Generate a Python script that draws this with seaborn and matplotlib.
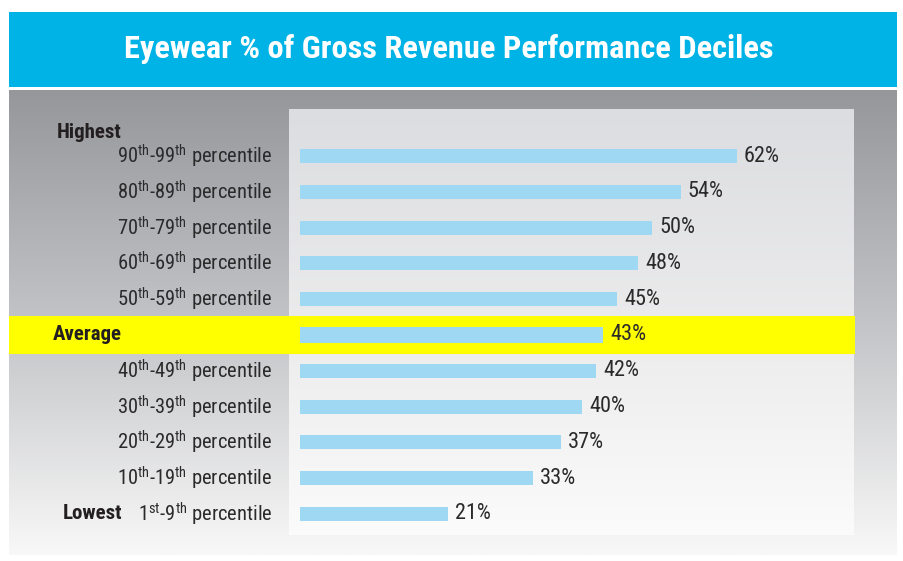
import numpy as np
import pandas as pd
import matplotlib
matplotlib.use("Agg")
import matplotlib.pyplot as plt
import matplotlib.transforms as mtransforms
from matplotlib import font_manager
from matplotlib.colors import LinearSegmentedColormap
from matplotlib.patches import Rectangle
import seaborn as sns

# ---------------- data ----------------
categories = ["90th-99th percentile", "80th-89th percentile", "70th-79th percentile",
              "60th-69th percentile", "50th-59th percentile", "Average",
              "40th-49th percentile", "30th-39th percentile", "20th-29th percentile",
              "10th-19th percentile", "1st-9th percentile"]
tick_labels = [r"90$^{\rm th}$-99$^{\rm th}$ percentile", r"80$^{\rm th}$-89$^{\rm th}$ percentile",
               r"70$^{\rm th}$-79$^{\rm th}$ percentile", r"60$^{\rm th}$-69$^{\rm th}$ percentile",
               r"50$^{\rm th}$-59$^{\rm th}$ percentile", "",
               r"40$^{\rm th}$-49$^{\rm th}$ percentile", r"30$^{\rm th}$-39$^{\rm th}$ percentile",
               r"20$^{\rm th}$-29$^{\rm th}$ percentile", r"10$^{\rm th}$-19$^{\rm th}$ percentile",
               r"1$^{\rm st}$-9$^{\rm th}$ percentile"]
values = [62, 54, 50, 48, 45, 43, 42, 40, 37, 33, 21]
title = "Eyewear % of Gross Revenue Performance Deciles"

installed = {f.name for f in font_manager.fontManager.ttflist}
FONT = "DejaVu Sans"
for cand in ["Liberation Sans Narrow", "Roboto Condensed", "Open Sans Condensed",
             "Noto Sans Condensed", "Open Sans", "Noto Sans", "Lato"]:
    if cand in installed:
        FONT = cand
        break

sns.set_style("white")
plt.rcParams["font.family"] = [FONT, "DejaVu Sans"]
plt.rcParams["mathtext.fontset"] = "custom"
plt.rcParams["mathtext.rm"] = FONT
plt.rcParams["mathtext.it"] = FONT
plt.rcParams["mathtext.bf"] = FONT + ":bold"
plt.rcParams["mathtext.sf"] = FONT

W, H = 904, 561
fig = plt.figure(figsize=(W / 100, H / 100), dpi=100)
fig.patch.set_facecolor("white")
renderer = fig.canvas.get_renderer()

TXT = "#2b2a2b"


def fx(px):
    return px / W


def fy(py):
    return 1 - py / H


def fit(t, target_px):
    w = t.get_window_extent(renderer).width
    t.set_fontsize(t.get_fontsize() * target_px / w)
    return t.get_fontsize()


def fit_size(s, target_px, **kw):
    t = fig.text(0, 0, s, fontsize=12, **kw)
    fs = fit(t, target_px)
    t.remove()
    return fs


# title band
fig.patches.append(Rectangle((fx(9), fy(87)), fx(897) - fx(9), fy(12) - fy(87),
                             transform=fig.transFigure, facecolor="#00b3e6",
                             edgecolor="none", zorder=0))
tt = fig.text(0.5 * (fx(9) + fx(897)) - fx(4), fy(49), title, color="white", fontsize=20,
              fontweight="bold", ha="center", va="center")
fit(tt, 647)

# outer gray gradient panel
grad = np.linspace(0, 1, 256).reshape(-1, 1)
ax_out = fig.add_axes([fx(9), fy(555), fx(897) - fx(9), fy(90) - fy(555)], zorder=0)
ax_out.imshow(grad, aspect="auto", extent=[0, 1, 0, 1],
              cmap=LinearSegmentedColormap.from_list("g1", ["#96979b", "#c3c4c7", "#f8f8f8"]))
ax_out.set_axis_off()

# inner panel gradient
pos = [fx(289), fy(535), fx(854) - fx(289), fy(109) - fy(535)]
ax_in = fig.add_axes(pos, zorder=1)
ax_in.imshow(grad, aspect="auto", extent=[0, 1, 0, 1],
             cmap=LinearSegmentedColormap.from_list("g2", ["#dcdde0", "#ebebec", "#fbfbfb"]))
ax_in.set_axis_off()

avg_idx = categories.index("Average")
ylim = (10.587, -1.313)

# yellow band layer (between panel and bars)
ax_band = fig.add_axes(pos, zorder=1.5)
ax_band.set_ylim(ylim)
ax_band.set_axis_off()
blend_b = mtransforms.blended_transform_factory(fig.transFigure, ax_band.transData)
ax_band.add_patch(Rectangle((fx(9), avg_idx - 0.53), fx(855) - fx(9), 1.06, transform=blend_b,
                            facecolor="#ffff00", edgecolor="none", clip_on=False))

# main axes
ax = fig.add_axes(pos, zorder=2)
ax.patch.set_alpha(0)
df = pd.DataFrame({"category": categories, "value": values})
sns.barplot(data=df, x="value", y="category", orient="h", color="#9ed8f2",
            saturation=1, width=0.39, ax=ax, order=categories, linewidth=0,
            edgecolor="none")

bars = ax.containers[0]
p = bars.patches[avg_idx]
p.set_y(avg_idx - 0.235)
p.set_height(0.47)

ax.set_xlim(-1.56, 78.6)
ax.set_ylim(ylim)
ax.set_yticks(range(len(categories)))
lab_fs = fit_size("percentile", 80)
ax.set_yticklabels(tick_labels, fontsize=lab_fs, color=TXT)
ax.tick_params(axis="y", length=0, pad=12)
ax.set_xticks([])
ax.set_xlabel("")
ax.set_ylabel("")
for s in ax.spines.values():
    s.set_visible(False)
# shift tick labels slightly up so digits are centred on the bars
offset = mtransforms.ScaledTranslation(0, 2 / 72, fig.dpi_scale_trans)
for lbl in ax.get_yticklabels():
    lbl.set_transform(lbl.get_transform() + offset)

val_fs = fit_size("62%", 36)
val_texts = ax.bar_label(bars, labels=[f"{v}%" for v in values], padding=5, fontsize=val_fs,
                         color=TXT)
down = mtransforms.ScaledTranslation(0, -1.5 / 72, fig.dpi_scale_trans)
for t in val_texts:
    t.set_transform(t.get_transform() + down)

blend = mtransforms.blended_transform_factory(fig.transFigure, ax.transData)
bold_fs = fit_size("Highest", 65, fontweight="bold")
ax.text(fx(122), -0.67, "Highest", transform=blend, fontsize=bold_fs, fontweight="bold",
        color="#231f20", ha="right", va="center")
ax.text(fx(53), avg_idx, "Average", transform=blend, fontsize=bold_fs, fontweight="bold",
        color="#231f20", ha="left", va="center")
ax.text(fx(122), 10, "Lowest", transform=blend, fontsize=bold_fs, fontweight="bold",
        color="#231f20", ha="right", va="center")

fig.savefig("out.png", dpi=100)
